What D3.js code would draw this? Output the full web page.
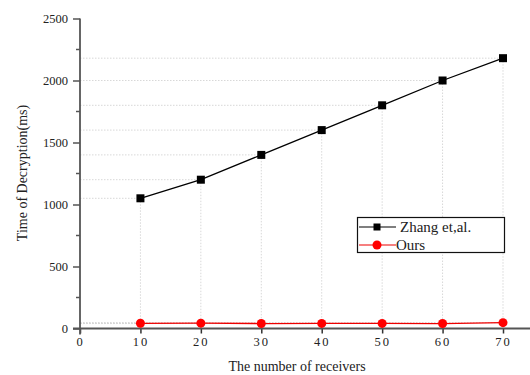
<!DOCTYPE html>
<html>
<head>
<meta charset="utf-8">
<script src="https://cdn.jsdelivr.net/npm/d3@7"></script>
<style>
body { margin: 0; background: #fff; }
svg text { font-family: "Liberation Serif", "Times New Roman", serif; fill: #222; }
</style>
</head>
<body>
<div id="chart"></div>
<script>
// data
const receivers = [10, 20, 30, 40, 50, 60, 70]
const zhang = [1050, 1200, 1400, 1600, 1800, 2000, 2180]
const ours = [42, 43, 40, 41, 41, 40, 47]
const xTicks = [0, 10, 20, 30, 40, 50, 60, 70]
const yTicks = [0, 500, 1000, 1500, 2000, 2500]
const yMinor = [250, 750, 1250, 1750, 2250]
const seriesNames = ['Zhang et,al.', 'Ours']

var serif = '"Liberation Serif", "Times New Roman", serif'
var width = 530, height = 375
var svg = d3.select('#chart').append('svg')
    .attr('width', width)
    .attr('height', height)
    .attr('font-family', serif)

var x = d3.scaleLinear().domain([0, 70]).range([80, 503])
var y = d3.scaleLinear().domain([0, 2500]).range([328.5, 18.5])

// drop lines from each point to the axes
var drops = svg.append('g')
    .attr('stroke', '#d8d8d8')
    .attr('stroke-width', 1)
    .attr('stroke-dasharray', '1.5,1.5')
;[zhang, ours].forEach(function (vals) {
  vals.forEach(function (v, i) {
    drops.append('line')
      .attr('x1', x(0)).attr('x2', x(receivers[i]))
      .attr('y1', y(v)).attr('y2', y(v))
    drops.append('line')
      .attr('x1', x(receivers[i])).attr('x2', x(receivers[i]))
      .attr('y1', y(v)).attr('y2', y(0))
  })
})

// x axis
var xAxis = svg.append('g')
    .attr('transform', 'translate(0,' + y(0) + ')')
    .call(d3.axisBottom(x).tickValues(xTicks).tickFormat(d3.format('d')).tickSize(5).tickPadding(4))
xAxis.attr('font-family', serif)
xAxis.select('.domain').remove()
xAxis.append('line')
    .attr('x1', 73).attr('x2', 530)
    .attr('stroke', '#555').attr('stroke-width', 1.8)
xAxis.selectAll('.tick line').attr('stroke', '#333').attr('stroke-width', 1.5)
xAxis.selectAll('text')
    .attr('font-family', serif)
    .attr('font-size', 12.5)
    .attr('letter-spacing', 2)
    .attr('fill', '#222')

// y axis
var yAxis = svg.append('g')
    .attr('transform', 'translate(' + x(0) + ',0)')
    .call(d3.axisLeft(y).tickValues(yTicks).tickFormat(d3.format('d')).tickSize(7).tickPadding(5))
yAxis.attr('font-family', serif)
yAxis.select('.domain').attr('stroke', '#555').attr('stroke-width', 1.8)
    .attr('d', 'M0,' + y(2500) + 'V' + (y(0) + 6))
yAxis.selectAll('.tick line').attr('stroke', '#555').attr('stroke-width', 1.5)
yAxis.selectAll('text')
    .attr('font-family', serif)
    .attr('font-size', 12.5)
    .attr('fill', '#222')
yAxis.selectAll('.minor')
    .data(yMinor)
  .enter().append('line')
    .attr('x1', -4).attr('x2', 0)
    .attr('y1', function (d) { return y(d) })
    .attr('y2', function (d) { return y(d) })
    .attr('stroke', '#555').attr('stroke-width', 1.5)

// lines
var line = d3.line()
    .x(function (d, i) { return x(receivers[i]) })
    .y(function (d) { return y(d) })

svg.append('path').datum(zhang)
    .attr('fill', 'none').attr('stroke', '#000').attr('stroke-width', 1.3)
    .attr('d', line)
svg.append('path').datum(ours)
    .attr('fill', 'none').attr('stroke', '#e00').attr('stroke-width', 1.3)
    .attr('d', line)

svg.selectAll('.sq')
    .data(zhang)
  .enter().append('rect')
    .attr('x', function (d, i) { return x(receivers[i]) - 4 })
    .attr('y', function (d) { return y(d) - 4 })
    .attr('width', 8).attr('height', 8)
    .attr('fill', '#000')

svg.selectAll('.dot')
    .data(ours)
  .enter().append('circle')
    .attr('cx', function (d, i) { return x(receivers[i]) })
    .attr('cy', function (d) { return y(d) })
    .attr('r', 4.5)
    .attr('fill', '#f00')

// axis titles
svg.append('text')
    .attr('x', 297).attr('y', 371)
    .attr('text-anchor', 'middle')
    .attr('font-size', 14)
    .text('The number of receivers')
svg.append('text')
    .attr('transform', 'translate(27,173) rotate(-90)')
    .attr('text-anchor', 'middle')
    .attr('font-size', 14)
    .text('Time of Decryption(ms)')

// legend
var legend = svg.append('g')
legend.append('rect')
    .attr('x', 357.5).attr('y', 217.5)
    .attr('width', 147).attr('height', 35)
    .attr('fill', '#fff').attr('stroke', '#111').attr('stroke-width', 1.2)
var lgColors = ['#000', '#e00']
seriesNames.forEach(function (name, i) {
  var ly = 227 + i * 18
  legend.append('line')
    .attr('x1', 359).attr('x2', 396)
    .attr('y1', ly).attr('y2', ly)
    .attr('stroke', lgColors[i]).attr('stroke-width', 1.2)
  if (i == 0) {
    legend.append('rect')
      .attr('x', 373.5).attr('y', ly - 3.5).attr('width', 7).attr('height', 7)
      .attr('fill', '#000')
  } else {
    legend.append('circle')
      .attr('cx', 377).attr('cy', ly).attr('r', 4.5).attr('fill', '#f00')
  }
  legend.append('text')
    .attr('x', i == 0 ? 400 : 396).attr('y', ly + 5)
    .attr('font-size', 15)
    .text(name)
})
</script>
</body>
</html>
